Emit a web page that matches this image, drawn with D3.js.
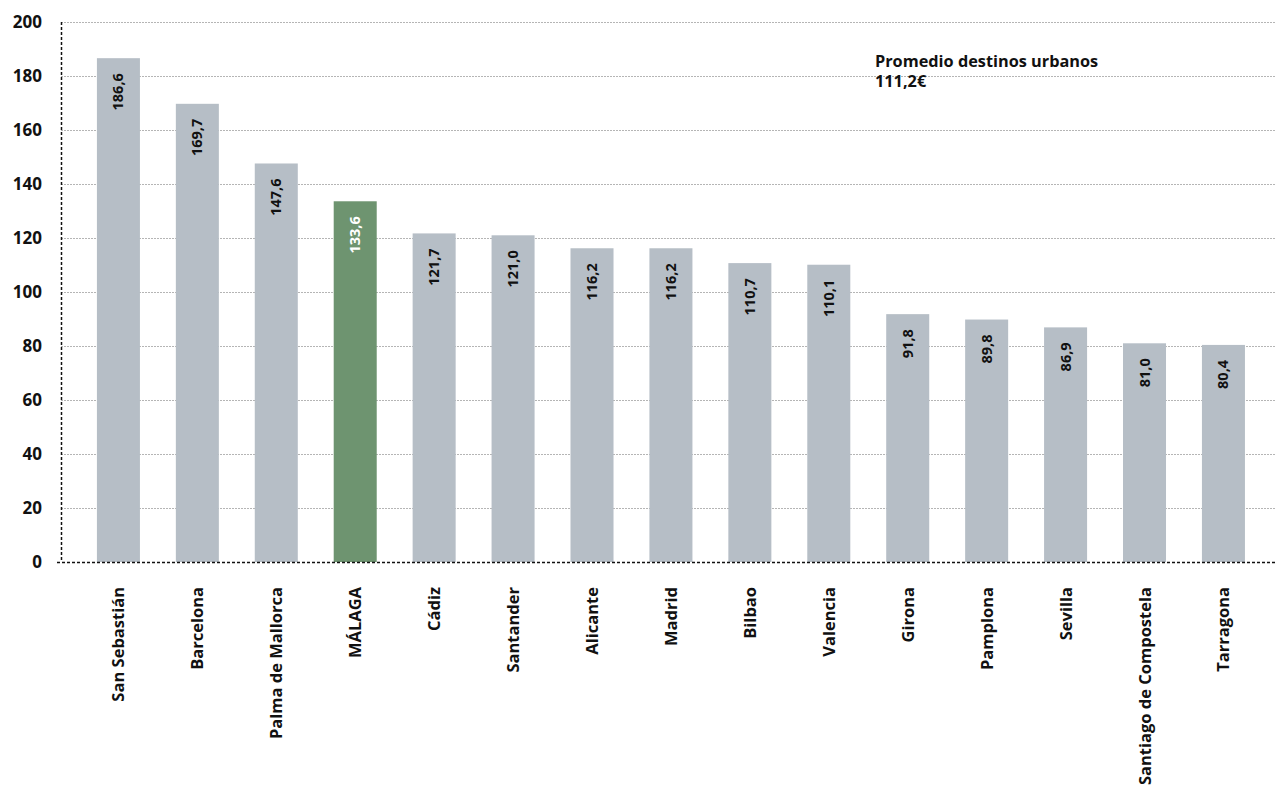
<!DOCTYPE html>
<html><head><meta charset="utf-8">
<script src="https://cdn.jsdelivr.net/npm/d3@7/dist/d3.min.js"></script>
<style>
html,body{margin:0;padding:0;background:#fff;}
svg{display:block;font-family:"Open Sans","Noto Sans",sans-serif;font-weight:700;}
</style></head>
<body><svg id="c" width="1276" height="787"></svg>
<script>
const categories = ["San Sebastián","Barcelona","Palma de Mallorca","MÁLAGA","Cádiz","Santander","Alicante","Madrid","Bilbao","Valencia","Girona","Pamplona","Sevilla","Santiago de Compostela","Tarragona"];
const values = [186.6,169.7,147.6,133.6,121.7,121.0,116.2,116.2,110.7,110.1,91.8,89.8,86.9,81.0,80.4];
const highlight = ["MÁLAGA"];
const yTicks = [0,20,40,60,80,100,120,140,160,180,200];
const noteLines = ["Promedio destinos urbanos","111,2€"];

const FONT = "'Open Sans','Noto Sans',sans-serif";
const svg = d3.select("#c");
const x0 = 61, yBottom = 562, yTop = 22;
const x = d3.scaleBand().domain(categories).range([x0, x0 + 78.93*15.455]).paddingInner(0.455).paddingOuter(0.455);
const y = d3.scaleLinear().domain([0,200]).range([yBottom, yTop]);
const fmt = v => v.toFixed(1).replace(".", ",");

// gridlines
svg.append("g").selectAll("line").data(yTicks.filter(d=>d>0)).join("line")
  .attr("x1", x0).attr("x2", 1276).attr("y1", d=>y(d)+0.5).attr("y2", d=>y(d)+0.5)
  .attr("stroke", "#b5b5b5").attr("stroke-width", 1).attr("stroke-dasharray", "2,1");

// y axis
const yAxis = d3.axisLeft(y).tickValues(yTicks).tickSize(0).tickPadding(19).tickFormat(d=>d);
const gy = svg.append("g").attr("transform", `translate(${x0},0)`).call(yAxis);
gy.select(".domain").remove();
gy.selectAll("text").attr("font-size", 17).attr("font-family",FONT).attr("font-weight",700).attr("fill","#111");

// bars
svg.append("g").selectAll("rect").data(categories).join("rect")
  .attr("x", d=>x(d)).attr("width", x.bandwidth())
  .attr("y", (d,i)=>y(values[i])).attr("height", (d,i)=>yBottom - y(values[i]))
  .attr("fill", d=> highlight.includes(d) ? "#6e9470" : "#b6bec6");

// value labels
svg.append("g").selectAll("text").data(categories).join("text")
  .attr("transform", (d,i)=>`translate(${x(d)+x.bandwidth()/2+5},${y(values[i])+15}) rotate(-90)`)
  .attr("text-anchor","end").attr("font-size", 14.5).attr("font-family",FONT)
  .attr("fill", d=> highlight.includes(d) ? "#fff" : "#111")
  .text((d,i)=>fmt(values[i]));

// axis lines
svg.append("line").attr("x1", x0+0.5).attr("x2", x0+0.5).attr("y1", yTop).attr("y2", yBottom)
  .attr("stroke","#111").attr("stroke-width",1.5).attr("stroke-dasharray","3,2");
svg.append("line").attr("x1", x0-4).attr("x2", 1276).attr("y1", yBottom+0.5).attr("y2", yBottom+0.5)
  .attr("stroke","#111").attr("stroke-width",1.5).attr("stroke-dasharray","3,2");

// x axis labels
const xAxis = d3.axisBottom(x).tickSize(0).tickPadding(0);
const gx = svg.append("g").attr("transform", `translate(0,${yBottom})`).call(xAxis);
gx.select(".domain").remove();
gx.selectAll("text").attr("font-size", 16.5).attr("font-family",FONT).attr("font-weight",700).attr("fill","#111")
  .attr("text-anchor","end").attr("dy", null)
  .attr("transform","translate(6,25) rotate(-90)").attr("x",0).attr("y",0);

// annotation
svg.append("g").selectAll("text").data(noteLines).join("text")
  .attr("x", 875).attr("y", (d,i)=>67 + i*19.5)
  .attr("font-size", 16.3).attr("font-family",FONT).attr("fill","#111").text(d=>d);
</script></body></html>
